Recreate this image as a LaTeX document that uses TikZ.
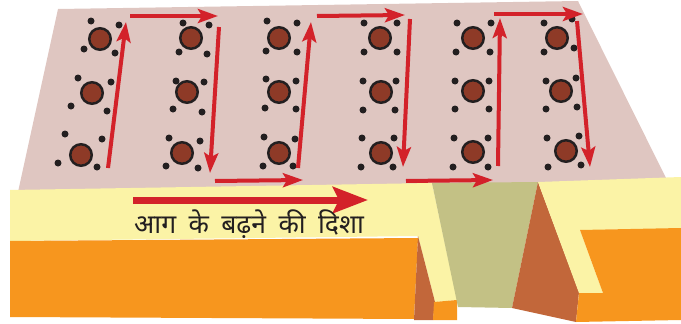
\documentclass[tikz,border=0pt]{standalone}
\usepackage{fontspec}
\newfontfamily\devfont[Script=Devanagari, WordSpace=1.8]{Noto Sans}
\usetikzlibrary{arrows.meta}
\definecolor{wallpink}{HTML}{DFC6C1}
\definecolor{sandyellow}{HTML}{FBF3A6}
\definecolor{rockorange}{HTML}{F7961E}
\definecolor{rockbrown}{HTML}{C2673A}
\definecolor{gapgreen}{HTML}{C3C185}
\definecolor{flowred}{HTML}{D3222A}
\definecolor{coalbrown}{HTML}{8E3A27}
\definecolor{inkgray}{HTML}{231F20}
\tikzset{
  flow/.style={draw=flowred, line width=4pt,
    -{Stealth[length=20pt,width=14pt,inset=4pt]}},
  bigflow/.style={draw=flowred, line width=7pt,
    -{Stealth[length=35pt,width=26pt,inset=6pt]}},
  coal/.style={circle, draw=inkgray, fill=coalbrown, line width=2.5pt,
    minimum size=21.5pt, inner sep=0pt},
  spark/.style={fill=inkgray},
  caption/.style={text=inkgray, font=\devfont\fontsize{26.5}{30}\selectfont,
    anchor=base west, inner sep=0pt}
}
\begin{document}
\begin{tikzpicture}[x=1pt,y=-1pt]
\useasboundingbox (0,0) rectangle (681,324);
% sloping wall
\fill[wallpink] (58,9) -- (578,1) -- (668,182) -- (18,192) -- cycle;
% left ground
\fill[sandyellow] (10,190) -- (432,183) -- (457,300) -- (435,302) -- (418,236) -- (10,241) -- cycle;
\fill[rockorange] (10,241) -- (418,238) -- (414,319) -- (10,317) -- cycle;
\fill[rockbrown] (418,236) -- (435,302) -- (433,320) -- (414,320) -- cycle;
\fill[rockorange] (434,302) -- (457,300) -- (457,320) -- (433,320) -- cycle;
% trench
\fill[gapgreen] (432,183) -- (538,182) -- (512,308) -- (458,307) -- cycle;
% right ground
\fill[rockbrown] (538,182) -- (579,292) -- (576,322) -- (512,308) -- cycle;
\fill[sandyellow] (538,182) -- (681,177) -- (681,229) -- (580,230) -- (603,293) -- (579,293) -- cycle;
\fill[rockorange] (580,230) -- (681,228) -- (681,320) -- (576,322) -- (579,293) -- (603,293) -- cycle;

% burning coals with sparks
\foreach \nm/\cx/\cy/\ax/\ay/\bx/\by/\dx/\dy/\ex/\ey in {
  c11/100/39/91/21/119/25/84/49/115/53,
  c12/92/93/78/78/111/82/71/106/107/111,
  c13/81/155/65/134/102/139/58/163/97/167,
  c21/191/38/183/23/209/25/179/52/207/54,
  c22/187/92/176/81/204/82/173/109/202/112,
  c23/182/153/169/138/200/141/166/166/198/168,
  c31/279/38/267/21/297/23/266/51/297/52,
  c32/279/92/266/79/296/81/265/108/296/109,
  c33/279/153/264/137/295/139/263/166/293/166,
  c41/380/38/364/23/397/23/364/52/397/52,
  c42/381/92/363/81/396/81/363/110/395/110,
  c43/381/153/362/138/394/138/361/167/393/167,
  c51/473/38/457/23/491/23/456/52/490/52,
  c52/473/91/455/81/489/81/455/109/489/109,
  c53/473/152/454/138/488/138/453/167/488/167,
  c61/557/38/544/23/572/19/544/52/574/48,
  c62/561/91/546/81/576/78/546/109/577/107,
  c63/566/151/547/138/579/136/548/167/581/165}{
  \node[coal] (\nm) at (\cx,\cy) {};
  \fill[spark] (\ax,\ay) circle (3.5pt) (\bx,\by) circle (3.5pt)
               (\dx,\dy) circle (3.5pt) (\ex,\ey) circle (3.5pt);
}

% zig-zag path of the fire
\coordinate (f1s) at (108,168);  \coordinate (f1e) at (126,22);
\coordinate (f2s) at (130,16);   \coordinate (f2e) at (218,16);
\coordinate (f3s) at (219,27);   \coordinate (f3e) at (210,173);
\coordinate (f4s) at (215,181);  \coordinate (f4e) at (303,180);
\coordinate (f5s) at (298,168);  \coordinate (f5e) at (311,22);
\coordinate (f6s) at (317,16);   \coordinate (f6e) at (405,15);
\coordinate (f7s) at (410,19);   \coordinate (f7e) at (403,167);
\coordinate (f8s) at (406,181);  \coordinate (f8e) at (493,180);
\coordinate (f9s) at (498,166);  \coordinate (f9e) at (500,18);
\coordinate (f10s) at (494,14);  \coordinate (f10e) at (583,14);
\coordinate (f11s) at (577,21);  \coordinate (f11e) at (590,167);
\foreach \k in {1,...,11}{
  \draw[flow] (f\k s) -- (f\k e);
}
% overall direction
\coordinate (dirs) at (133,200); \coordinate (dire) at (368,200);
\draw[bigflow] (dirs) -- (dire);
\node[caption] (dirlabel) at (134,233) {आग के बढ़ने की दिशा};
\end{tikzpicture}
\end{document}
